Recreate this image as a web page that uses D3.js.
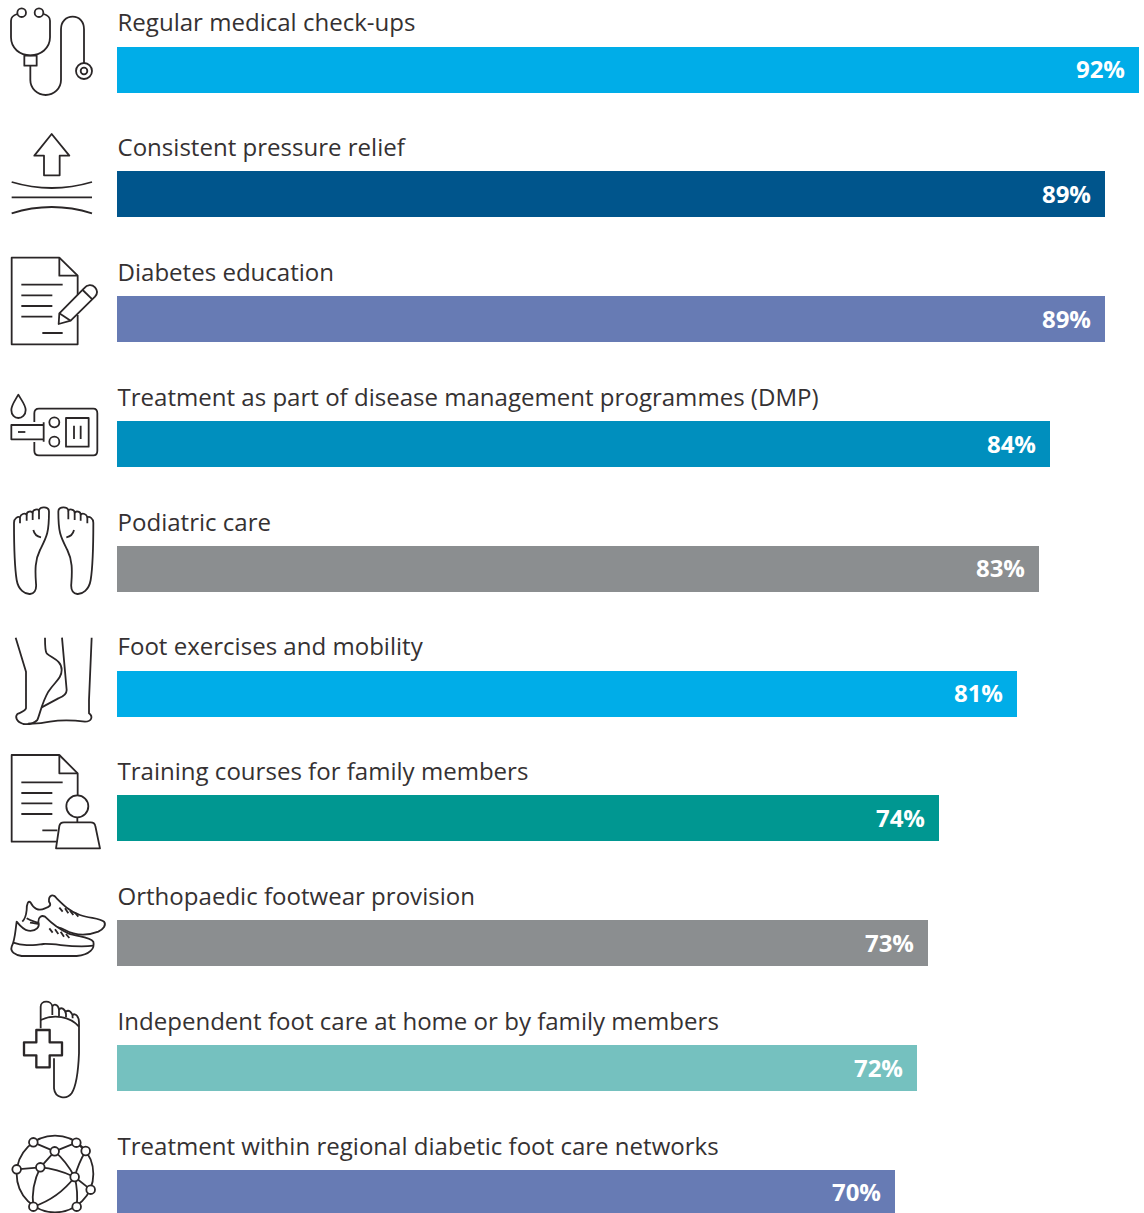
<!DOCTYPE html>
<html>
<head>
<meta charset="utf-8">
<script src="https://cdn.jsdelivr.net/npm/d3@7/dist/d3.min.js"></script>
<style>
html,body{margin:0;padding:0;background:#fff;overflow:hidden}
svg{display:block}
</style>
</head>
<body>
<svg id="chart" width="1144" height="1213"></svg>
<script>
const categories = [
  "Regular medical check-ups",
  "Consistent pressure relief",
  "Diabetes education",
  "Treatment as part of disease management programmes (DMP)",
  "Podiatric care",
  "Foot exercises and mobility",
  "Training courses for family members",
  "Orthopaedic footwear provision",
  "Independent foot care at home or by family members",
  "Treatment within regional diabetic foot care networks"
];
const shares = [92, 89, 89, 84, 83, 81, 74, 73, 72, 70];
const barColors = ["#00ade8","#00558c","#677bb4","#008fbe","#8b8e90","#00ade8","#009791","#8b8e90","#75c1bf","#677bb4"];
const iconNames = ["stethoscope","pressure","document","meter","soles","feet","trainer","shoes","footcross","network"];
// Vertical origin of each icon's drawing grid on the page.
const iconOrigins = [0, 0, 240, 240, 490, 490, 740, 740, 990, 990];

const svg = d3.select("#chart");
const x = d3.scaleLinear().domain([0, 92]).range([117.5, 1138.7]);
const rowTop = d3.scaleLinear().domain([0, 9]).range([46.6, 1169.8]);
const barH = 46;
const barLeft = 117;
const ink = "#2a2627";

function circles(g, list){
  list.forEach(c => g.append("circle").attr("cx", c[0]).attr("cy", c[1]).attr("r", c[2]));
}
function paths(g, list){
  list.forEach(d => g.append("path").attr("d", d));
}

// Line icons on a grid three times finer than the page.
const iconDraw = {
  stethoscope(g){
    paths(g, [
      "M52,42C38,46 33,52 33,62V112C33,145 60,166 91,166C122,166 150,145 150,112V62C150,52 145,46 131,42",
      "M73,167H110V197H73Z",
      "M91,197V240C91,265 112,285 137,285C162,285 183,265 183,240V88C183,65 198,50 218,50C238,50 252,65 252,88V190"
    ]);
    circles(g, [[65,38,13],[117,38,13],[252,213,24],[252,213,10]]);
  },
  pressure(g){
    paths(g, [
      "M155,402L208,467H179V526H132V467H103Z",
      "M35,546Q155,582 276,546",
      "M35,592H276",
      "M35,640Q155,602 276,640"
    ]);
  },
  document(g){
    paths(g, [
      "M233,165V107L178,53H35V313H233V225",
      "M178,53V107H233",
      "M64,134H188M64,166H157M64,198H157M64,230H157M127,279H188",
      "M176,252L178,220L252,145C262,133 276,133 285,142C293,151 292,162 285,170L212,242Z",
      "M178,220L212,242",
      "M248,150L277,178"
    ]);
  },
  meter(g){
    paths(g, [
      "M55,464C45,482 34,495 34,510C34,525 44,534 55,534C66,534 77,525 77,510C77,495 65,482 55,464Z",
      "M103,546V520Q103,506 117,506H280Q292,506 292,520V632Q292,646 280,646H117Q103,646 103,632V606",
      "M131,547V605M131,555H34V598H131",
      "M54,576H76",
      "M198,534H266V620H198Z",
      "M222,557V597M242,557V597"
    ]);
    circles(g, [[163,547,15],[163,605,15]]);
  },
  soles(g){
    const foot = "M147,65C147,48 118,48 117,62C115,55 98,58 98,68C94,62 80,64 80,74C74,68 62,72 60,82C54,78 42,85 42,98C42,130 42,220 50,270C55,300 75,313 90,312C105,310 110,298 108,280C105,240 105,210 120,180C140,140 147,130 147,65Z";
    const detail = "M117,62V88M98,68V90M80,74V92M60,82V100";
    const arc = "M100,120C103,133 112,140 123,142";
    [g, g.append("g").attr("transform","translate(322,0) scale(-1,1)")].forEach(side => {
      paths(side, [foot, detail, arc]);
    });
  },
  feet(g){
    paths(g, [
      "M47,443L78,545V655C75,665 60,668 52,672C45,680 48,695 70,702C85,704 100,702 112,690C120,672 125,640 145,605C165,575 185,565 185,540C185,510 155,505 140,490C135,483 135,470 135,443",
      "M186,443L200,600C200,610 190,620 175,625L125,652",
      "M275,443L267,630V670C280,680 275,695 255,695C215,690 180,690 150,695C125,700 100,702 85,700"
    ]);
  },
  trainer(g){
    paths(g, [
      "M170,305H35V45H178L233,100V166",
      "M178,45V100H233",
      "M64,127H188M64,159H157M64,190H157M64,222H157M127,271H172",
      "M232,232V247",
      "M168,325L178,258Q180,247 192,247H272Q284,247 286,258L300,325Z"
    ]);
    circles(g, [[232,199,33]]);
  },
  shoes(g){
    paths(g, [
      "M67,545C72,540 78,530 80,510C80,490 85,480 92,488C100,505 115,515 135,505C150,500 155,495 147,485C145,465 160,460 170,475C190,495 210,515 240,525C270,535 300,535 312,545C320,555 310,568 295,575C270,585 230,590 195,570C170,555 130,555 90,548",
      "M80,535C95,545 110,545 130,555",
      "M178,503L188,515M195,505L205,520M210,512L220,525M225,518L235,530"
    ]);
    g.append("path").attr("fill","#fff")
      .attr("d","M50,545C45,580 45,600 35,620C30,635 45,645 65,648H230C270,645 285,625 280,605C270,590 230,590 205,580C170,565 150,545 135,530C125,525 115,530 115,545C120,560 110,575 85,572C70,570 58,555 50,545Z");
    paths(g, [
      "M40,608C70,620 100,615 130,612C170,610 220,625 280,617",
      "M148,565L158,578M165,568L175,582M182,575L192,590M198,582L208,594"
    ]);
  },
  footcross(g){
    paths(g, [
      "M122,115V50C122,30 155,30 157,50V75M157,50C160,40 175,42 177,60V78M177,60C182,50 195,55 198,72V82M198,65C205,58 218,65 218,85M218,75C225,68 238,78 237,100V190C235,240 228,290 215,310C200,330 165,325 162,295V205",
      "M122,90C160,72 210,78 237,110"
    ]);
    g.append("path").attr("fill","#fff").attr("stroke-width",7)
      .attr("d","M109,120H149V157H186V196H149V232H109V196H72V157H109Z");
  },
  network(g){
    g.append("circle").attr("cx",165).attr("cy",552).attr("r",115);
    paths(g, [
      "M100,457L164,484L229,458L257,483",
      "M164,484L121,532L50,538",
      "M121,532Q170,535 224,561",
      "M164,484Q200,515 224,561",
      "M257,483Q235,520 224,561",
      "M224,561L272,599",
      "M224,561Q235,605 230,650",
      "M224,561Q175,625 100,650",
      "M121,532Q92,590 100,650"
    ]);
    const nodes = [[100,457],[229,458],[257,483],[164,484],[121,532],[50,538],[224,561],[272,599],[100,650],[230,650]];
    nodes.forEach(n => g.append("circle").attr("cx",n[0]).attr("cy",n[1]).attr("r",13).attr("fill","#fff"));
  }
};

const rows = svg.selectAll("g.row").data(categories).join("g").attr("class","row");

// Bar edges sit on whole pixels; text follows the unrounded row position.
rows.append("rect")
  .attr("x", barLeft)
  .attr("y", (d,i)=> Math.round(rowTop(i)))
  .attr("height", barH)
  .attr("width", (d,i)=> Math.round(x(shares[i])) - barLeft)
  .attr("fill", (d,i)=> barColors[i]);

rows.append("text")
  .attr("x", 117.5)
  .attr("y", (d,i)=> rowTop(i) - 15.2)
  .attr("font-family","'Open Sans', sans-serif")
  .attr("font-size", 24.05)
  .attr("fill", "#353132")
  .text(d=>d);

rows.append("text")
  .attr("x", (d,i)=> Math.round(x(shares[i])) - 14)
  .attr("y", (d,i)=> rowTop(i) + 31.6)
  .attr("text-anchor","end")
  .attr("font-family","'Open Sans', sans-serif")
  .attr("font-size", 24)
  .attr("font-weight", 700)
  .attr("fill", "#fff")
  .text((d,i)=> shares[i] + "%");

iconNames.forEach((name,i) => {
  const g = svg.append("g")
    .attr("transform",`translate(0,${iconOrigins[i]}) scale(${1/3})`)
    .attr("fill","none").attr("stroke",ink).attr("stroke-width",5.4)
    .attr("stroke-linejoin","round").attr("stroke-linecap","butt");
  iconDraw[name](g);
});
</script>
</body>
</html>
